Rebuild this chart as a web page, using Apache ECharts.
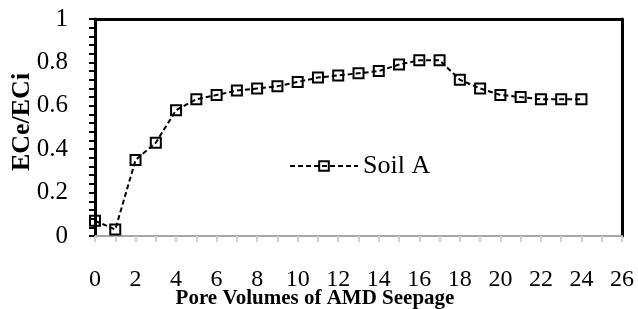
<!DOCTYPE html>
<html>
<head>
<meta charset="utf-8">
<script src="https://cdn.jsdelivr.net/npm/echarts@6/dist/echarts.min.js"></script>
<style>
    html, body { margin: 0; padding: 0; background: #fff; }
    #chart { width: 638px; height: 309px; }
</style>
</head>
<body>
<div id="chart"></div>
<script>
// data
var poreVolumes = [0, 1, 2, 3, 4, 5, 6, 7, 8, 9, 10, 11, 12, 13, 14, 15, 16, 17, 18, 19, 20, 21, 22, 23, 24];
var soilA = [0.07, 0.03, 0.35, 0.43, 0.58, 0.63, 0.65, 0.67, 0.68, 0.69, 0.71, 0.73, 0.74, 0.75, 0.76, 0.79, 0.81, 0.81, 0.72, 0.68, 0.65, 0.64, 0.63, 0.63, 0.63];
var seriesName = "Soil A";
var xTitle = "Pore Volumes of AMD Seepage";
var yTitle = "ECe/ECi";

var font = "'Liberation Serif', 'Times New Roman', serif";
var chart = echarts.init(document.getElementById("chart"));

var points = poreVolumes.map(function(v, i) {
    return [v, soilA[i]];
});

var option = {
    animation: false,
    grid: {
        left: 95,
        right: 16,
        top: 19,
        bottom: 73
    },
    legend: {
        left: 284,
        top: 148,
        itemWidth: 68,
        itemHeight: 12,
        textStyle: {
            fontFamily: font,
            fontSize: 26,
            color: "#000"
        },
        lineStyle: {
            type: [5, 3],
            width: 2,
            color: "#000"
        },
        data: [seriesName]
    },
    xAxis: [
        {
            type: "value",
            min: 0,
            max: 26,
            interval: 2,
            axisLine: { show: true, lineStyle: { color: "#a6a6a6", width: 2 } },
            axisTick: { show: true, length: 6, lineStyle: { color: "#d0d0d0", width: 2 } },
            minorTick: { show: true, splitNumber: 2, length: 6, lineStyle: { color: "#d0d0d0", width: 2 } },
            splitLine: { show: false },
            axisLabel: {
                margin: 32,
                fontFamily: font,
                fontSize: 24,
                color: "#000"
            }
        },
        {
            type: "value",
            position: "top",
            min: 0,
            max: 26,
            axisLine: { show: true, onZero: false, lineStyle: { color: "#000", width: 3 } },
            axisTick: { show: false },
            axisLabel: { show: false },
            splitLine: { show: false }
        }
    ],
    yAxis: [
        {
            type: "value",
            min: 0,
            max: 1,
            interval: 0.2,
            axisLine: { show: true, lineStyle: { color: "#000", width: 3 } },
            axisTick: { show: true, length: 6, lineStyle: { color: "#000", width: 2 } },
            minorTick: { show: true, splitNumber: 5, length: 6, lineStyle: { color: "#000", width: 2 } },
            splitLine: { show: false },
            axisLabel: {
                margin: 27,
                fontFamily: font,
                fontSize: 25,
                color: "#000"
            }
        },
        {
            type: "value",
            position: "right",
            min: 0,
            max: 1,
            axisLine: { show: true, onZero: false, lineStyle: { color: "#000", width: 3 } },
            axisTick: { show: false },
            axisLabel: { show: false },
            splitLine: { show: false }
        }
    ],
    graphic: [
        {
            type: "text",
            x: 315,
            y: 299,
            style: {
                text: xTitle,
                fontFamily: font,
                fontWeight: "bold",
                fontSize: 21,
                fill: "#000",
                textAlign: "center",
                textVerticalAlign: "middle"
            }
        },
        {
            type: "text",
            x: 22,
            y: 122,
            rotation: Math.PI / 2,
            style: {
                text: yTitle,
                fontFamily: font,
                fontWeight: "bold",
                fontSize: 26,
                fill: "#000",
                textAlign: "center",
                textVerticalAlign: "middle"
            }
        }
    ],
    series: [
        {
            name: seriesName,
            type: "line",
            data: points,
            symbol: "rect",
            symbolSize: 10,
            showAllSymbol: true,
            lineStyle: {
                color: "#000",
                width: 2,
                type: [5, 3]
            },
            itemStyle: {
                color: "transparent",
                borderColor: "#000",
                borderWidth: 2
            }
        }
    ]
};

chart.setOption(option);
</script>
</body>
</html>
